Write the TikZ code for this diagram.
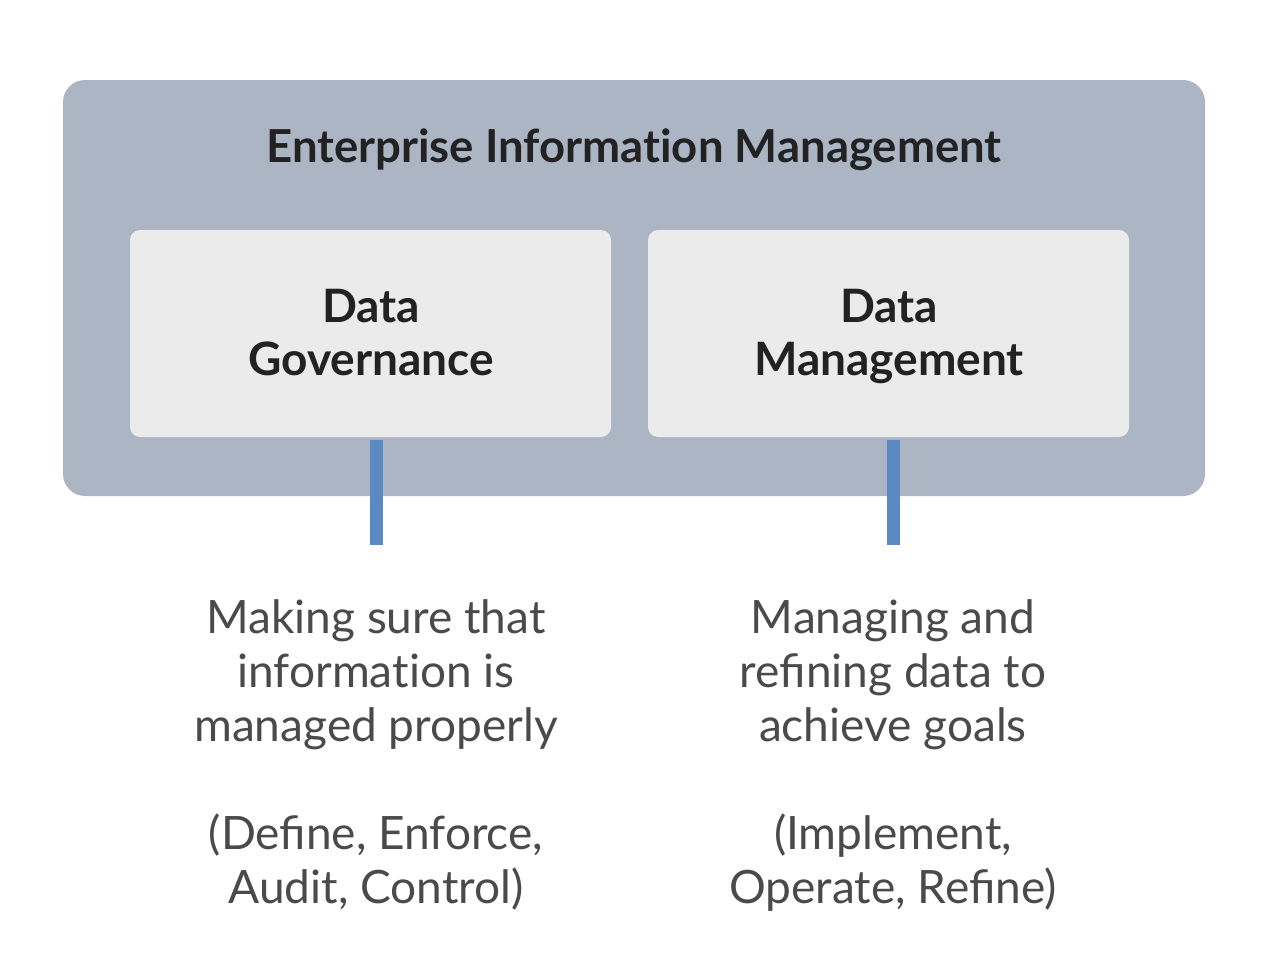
\documentclass[tikz,border=0pt]{standalone}
\usepackage{fontspec}
\setmainfont{Lato}
\definecolor{outerbg}{HTML}{ABB5C3}
\definecolor{innerbg}{HTML}{EBEBEB}
\definecolor{linkblue}{HTML}{5B8AC3}
\definecolor{titletext}{HTML}{222222}
\definecolor{desctext}{HTML}{4A4A4A}
\begin{document}
\begin{tikzpicture}[x=1pt,y=-1pt,
  outerbox/.style={fill=outerbg, draw=none, rounded corners=22pt},
  innerbox/.style={fill=innerbg, draw=none, rounded corners=10pt, minimum width=481pt, minimum height=207pt, inner sep=0pt},
  boxlabel/.style={align=center, text=titletext, font=\bfseries\fontsize{46}{53}\selectfont, inner sep=0pt, anchor=base},
  desc/.style={align=center, text=desctext, font=\fontsize{46}{54}\selectfont, inner sep=0pt, anchor=base},
  link/.style={draw=linkblue, line width=13pt}]
\useasboundingbox (0,0) rectangle (1280,977);
\fill[white] (0,0) rectangle (1280,977);
\path[outerbox] (63,80) rectangle (1205,496);
\node[anchor=base, text=titletext, font=\bfseries\fontsize{45.5}{53}\selectfont, inner sep=0pt] (title) at (634,162) {Enterprise Informat\kern0pt ion Management};
\node[innerbox] (dg) at (370.5,333.5) {};
\node[innerbox] (dm) at (888.5,333.5) {};
\node[boxlabel] (dglabel) at (371,375) {Data\\Governance};
\node[boxlabel] (dmlabel) at (889,375) {Data\\Management};
\coordinate (dgend) at (376,545);
\coordinate (dmend) at (893,545);
\draw[link] (dg.south -| dgend) ++(0,3) -- (dgend);
\draw[link] (dm.south -| dmend) ++(0,3) -- (dmend);
\node[desc] (dgdesc) at (376,903) {Making sure that\\informat\kern0pt ion is\\managed properly\\[54pt](Define, Enforce,\\Audit, Control)};
\node[desc] (dmdesc) at (893,903) {Managing and\\refining data to\\achieve goals\\[54pt](Implement,\\Operate, Refine)};
\end{tikzpicture}
\end{document}
